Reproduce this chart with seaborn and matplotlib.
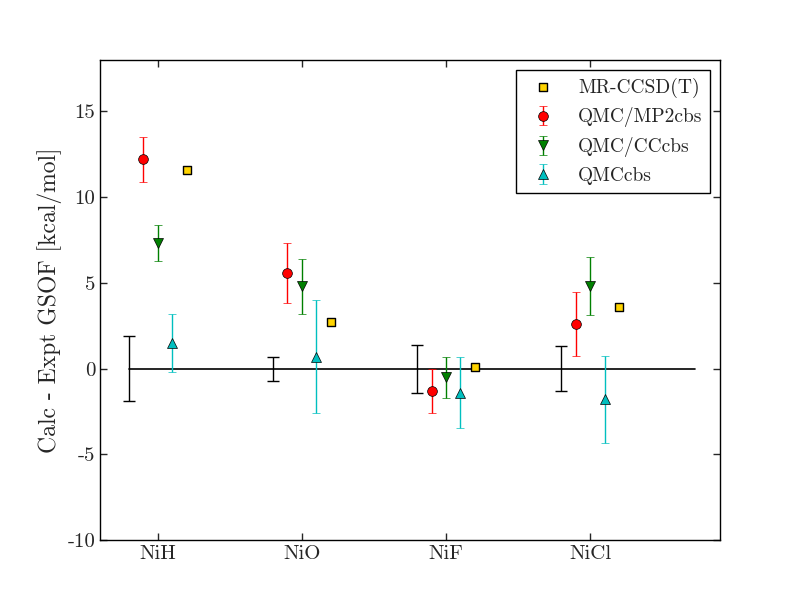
import numpy as np
import seaborn as sns
import matplotlib.pyplot as plt

# Molecules and values (kcal/mol, calc - expt)
molecules = ["NiH", "NiO", "NiF", "NiCl"]
expt_err = [1.9, 0.7, 1.4, 1.3]
mrccsd = [11.6, 2.7, 0.1, 3.6]
qmc_mp2 = [12.2, 5.6, -1.3, 2.6]
qmc_mp2_err = [1.3, 1.75, 1.3, 1.85]
qmc_cc = [7.3, 4.8, -0.5, 4.8]
qmc_cc_err = [1.05, 1.6, 1.2, 1.7]
qmc_cbs = [1.5, 0.7, -1.4, -1.8]
qmc_cbs_err = [1.7, 3.3, 2.05, 2.55]

sns.set_style("ticks")
plt.rcParams["font.family"] = "cmr10"
plt.rcParams["mathtext.fontset"] = "cm"
plt.rcParams["axes.unicode_minus"] = False
plt.rcParams["axes.formatter.use_mathtext"] = False

x = np.arange(len(molecules))

fig = plt.figure(figsize=(8, 6), dpi=100)
ax = fig.add_axes([0.125, 0.1, 0.775, 0.8])

# zero line and experimental error bars
ax.plot([-0.2, 3.73], [0, 0], color="black", lw=1.2)
ax.errorbar(x - 0.2, np.zeros(len(x)), yerr=expt_err, fmt="none",
            ecolor="black", capsize=4, elinewidth=1, capthick=1)

sns.scatterplot(x=x + 0.2, y=mrccsd, marker="s", s=40, color="#ffd400",
                edgecolor="black", linewidth=1, ax=ax, label="MR-CCSD(T)",
                zorder=5)
ax.errorbar(x - 0.1, qmc_mp2, yerr=qmc_mp2_err, fmt="o", color="red",
            mec="black", mew=0.5, ms=7, capsize=3, elinewidth=1,
            label="QMC/MP2cbs")
ax.errorbar(x, qmc_cc, yerr=qmc_cc_err, fmt="v", color="green",
            mec="black", mew=0.5, ms=7, capsize=3, elinewidth=1,
            label="QMC/CCcbs")
ax.errorbar(x + 0.1, qmc_cbs, yerr=qmc_cbs_err, fmt="^", color="#00bfbf",
            mec="black", mew=0.5, ms=7, capsize=3, elinewidth=1,
            label="QMCcbs")

ax.set_xlim(-0.4, 3.9)
ax.set_ylim(-10, 18)
ax.set_xticks(x)
ax.set_xticklabels(molecules)
ax.set_yticks([-10, -5, 0, 5, 10, 15])
ax.set_yticklabels([str(v) for v in [-10, -5, 0, 5, 10, 15]])
ax.tick_params(direction="in", top=True, right=True, length=5,
               labelsize=15, width=1)
for s in ax.spines.values():
    s.set_linewidth(1)
    s.set_color("black")
ax.set_ylabel("Calc - Expt GSOF [kcal/mol]", fontsize=17, labelpad=4)

leg = ax.legend(loc="upper right", numpoints=1, scatterpoints=1,
                fontsize=14, fancybox=False, edgecolor="black",
                framealpha=1, borderaxespad=0.5)
leg.get_frame().set_linewidth(1)

plt.savefig("out.png", dpi=100)
